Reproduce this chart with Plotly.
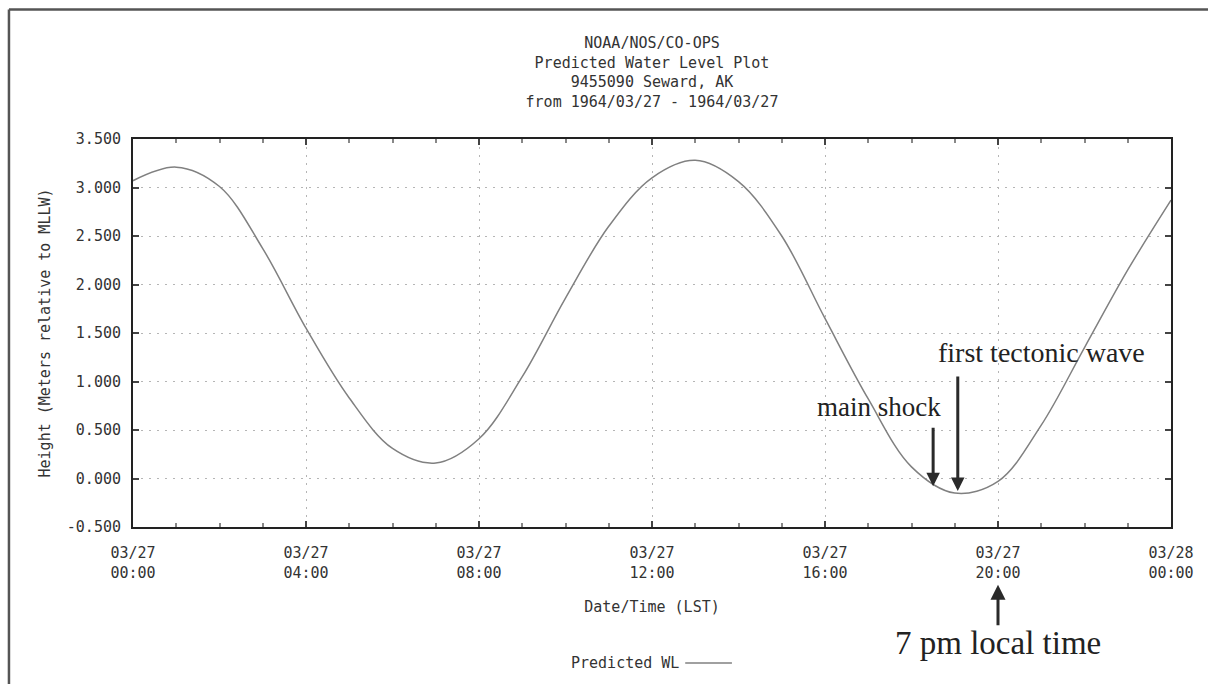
import pandas as pd
import plotly.graph_objects as go

# Hourly predicted water level, Seward AK, 1964-03-27 (meters above MLLW)
hours = list(range(25))
water_level = [3.07, 3.21, 3.01, 2.37, 1.55, 0.83, 0.31, 0.16, 0.41, 1.05,
               1.86, 2.60, 3.10, 3.28, 3.06, 2.50, 1.65, 0.82, 0.12, -0.15,
               -0.03, 0.55, 1.35, 2.15, 2.87]

tick_hours = [0, 4, 8, 12, 16, 20, 24]
tick_labels = ["03/27<br>00:00", "03/27<br>04:00", "03/27<br>08:00", "03/27<br>12:00",
               "03/27<br>16:00", "03/27<br>20:00", "03/28<br>00:00"]
y_ticks = [-0.5, 0.0, 0.5, 1.0, 1.5, 2.0, 2.5, 3.0, 3.5]
y_labels = ["-0.500", "0.000", "0.500", "1.000", "1.500", "2.000", "2.500", "3.000", "3.500"]

# Event markers: (hour, level at arrow tip, arrow length in px)
main_shock = (18.5, -0.08, 60)
first_wave = (19.07, -0.13, 116)
local_7pm_hour = 20

base = pd.Timestamp("1964-03-27 00:00")
def t(h):
    return base + pd.Timedelta(hours=h)

times = [t(h) for h in hours]

MONO = "DejaVu Sans Mono"
SERIF = "Liberation Serif, Times New Roman, serif"
TXT = "#333333"
GRID_DASH = "2px,6px"

fig = go.Figure()
fig.add_trace(go.Scatter(
    x=times, y=water_level, mode="lines", name="Predicted WL",
    line=dict(color="#808080", width=1.5, shape="spline", smoothing=1.0),
    showlegend=False,
))

fig.update_layout(
    width=1208, height=684,
    margin=dict(l=133, r=37, t=139, b=157),
    paper_bgcolor="white", plot_bgcolor="white",
    font=dict(family=MONO, size=15, color=TXT),
    title=dict(
        text="NOAA/NOS/CO-OPS<br>Predicted Water Level Plot<br>9455090 Seward, AK<br>from 1964/03/27 - 1964/03/27",
        x=0.5, xref="paper", y=1 - 48 / 684, yref="container", yanchor="top", xanchor="center",
        font=dict(family=MONO, size=15, color=TXT),
    ),
)

fig.update_xaxes(
    range=[t(0), t(24)],
    tickvals=[t(h) for h in tick_hours], ticktext=tick_labels,
    ticks="inside", ticklen=6, tickcolor="#444", tickwidth=1.5,
    minor=dict(dtick=3600000, ticks="inside", ticklen=4, tickcolor="#888", showgrid=False),
    showgrid=True, gridcolor="#b5b5b5", griddash=GRID_DASH, gridwidth=1,
    showline=True, linecolor="#222", linewidth=2, mirror="ticks",
    zeroline=False, ticklabelstandoff=11,
    tickfont=dict(family=MONO, size=15, color=TXT),
    title=dict(text="Date/Time (LST)", standoff=21, font=dict(family=MONO, size=15, color=TXT)),
)
fig.update_yaxes(
    range=[-0.5, 3.5], tickvals=y_ticks, ticktext=y_labels,
    ticks="inside", ticklen=6, tickcolor="#444", tickwidth=2,
    showgrid=True, gridcolor="#b5b5b5", griddash=GRID_DASH, gridwidth=1,
    showline=True, linecolor="#222", linewidth=2, mirror="ticks",
    zeroline=False, ticklabelstandoff=7,
    tickfont=dict(family=MONO, size=15, color=TXT),
    title=dict(text="Height (Meters relative to MLLW)", standoff=13,
               font=dict(family=MONO, size=15, color=TXT)),
)

# Event arrows
for h, lvl, length in (main_shock, first_wave):
    fig.add_annotation(x=t(h), y=lvl, xref="x", yref="y", text="",
                       showarrow=True, ax=0, ay=-length, arrowhead=2, arrowsize=0.9,
                       arrowwidth=3, arrowcolor="#2a2a2a")
fig.add_annotation(x=t(17.25), y=0.74, xref="x", yref="y", text="main shock",
                   showarrow=False, yanchor="middle", font=dict(family=SERIF, size=27, color="#222"))
fig.add_annotation(x=t(21.0), y=1.30, xref="x", yref="y", text="first tectonic wave",
                   showarrow=False, yanchor="middle", font=dict(family=SERIF, size=28, color="#222"))

fig.add_annotation(x=t(local_7pm_hour), y=-0.149, xref="x", yref="paper", text="",
                   showarrow=True, ax=0, ay=42, arrowhead=2, arrowsize=1.0,
                   arrowwidth=3, arrowcolor="#2a2a2a")
fig.add_annotation(x=t(local_7pm_hour), y=-0.299, xref="x", yref="paper", text="7 pm local time",
                   showarrow=False, yanchor="middle", font=dict(family=SERIF, size=33, color="#222"))

# Legend entry: label followed by line sample
fig.add_annotation(x=0.528, y=-0.3505, xref="paper", yref="paper", text="Predicted WL",
                   xanchor="right", yanchor="middle", showarrow=False,
                   font=dict(family=MONO, size=15, color=TXT))
fig.add_shape(type="line", xref="paper", yref="paper", x0=0.532, x1=0.577,
              y0=-0.3505, y1=-0.3505, line=dict(color="#808080", width=1.5))

# Outer page frame
fig.add_shape(type="line", xref="paper", yref="paper", x0=-0.1195, x1=1.04,
              y0=1.334, y1=1.334, line=dict(color="#555", width=2.5))
fig.add_shape(type="line", xref="paper", yref="paper", x0=-0.1195, x1=-0.1195,
              y0=1.334, y1=-0.41, line=dict(color="#555", width=2.5))

fig.write_html("out.html")
